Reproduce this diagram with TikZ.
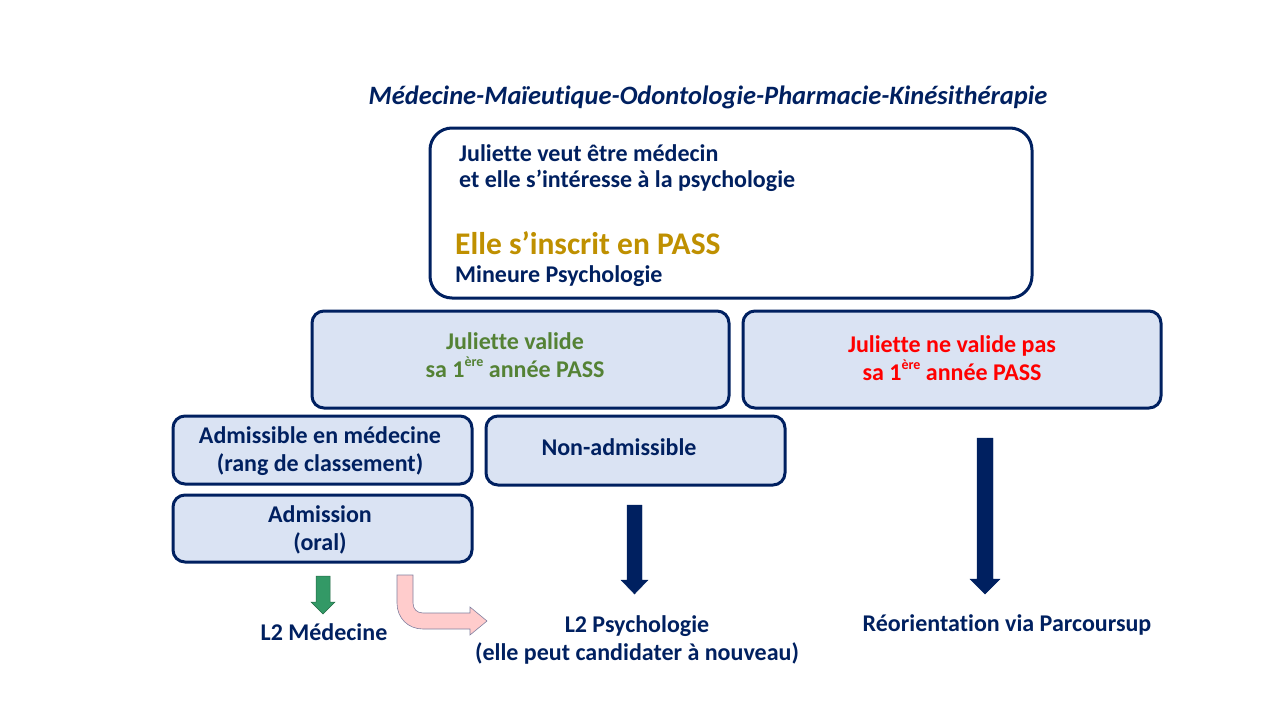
\documentclass[tikz,border=0pt]{standalone}
\usepackage{fontspec}
\setmainfont{Carlito}[Ligatures=NoCommon]
\definecolor{navy}{HTML}{002060}
\definecolor{boxfill}{HTML}{DAE3F3}
\definecolor{okgreen}{HTML}{548235}
\definecolor{gold}{HTML}{BF9000}
\definecolor{arrgreen}{HTML}{339966}
\definecolor{pinkfill}{HTML}{FFCCCC}
\definecolor{pinkline}{HTML}{8080A0}
\newcommand{\supx}[1]{\raisebox{0.45em}{\fontsize{14}{14}\selectfont #1}}
\tikzset{
  txt/.style={font=\bfseries\fontsize{24}{28.5}\selectfont, text=navy, align=center, inner sep=0pt},
  bigbox/.style={draw=navy, line width=3pt, rounded corners=22pt, fill=white},
  stagebox/.style={draw=navy, line width=3pt, rounded corners=12pt, fill=boxfill},
  navyarrow/.style={fill=navy, draw=navy, line width=0.4pt},
}
\begin{document}
\begin{tikzpicture}[x=1pt,y=-1pt]
\useasboundingbox (0,0) rectangle (1280,720);
% title
\node[txt, font=\bfseries\itshape\fontsize{26.5}{30}\selectfont] (title) at (708,97) {Médecine-Maïeutique-Odontologie-Pharmacie-Kinésithérapie};
% top box
\draw[bigbox] (430,128) rectangle (1032,298);
\node[txt, anchor=west] (t1) at (459,153) {Juliette veut être médecin};
\node[txt, anchor=west] (t2) at (459,181) {et elle s’intéresse à la psychologie};
\node[txt, anchor=west, text=gold, font=\bfseries\fontsize{31.5}{34}\selectfont] (t3) at (455,243) {Elle s’inscrit en PASS};
\node[txt, anchor=west] (t4) at (455,276) {Mineure Psychologie};
% second row
\draw[stagebox] (312,311) rectangle (729,408);
\node[txt, text=okgreen] (valide) at (515,355) {Juliette valide\\sa 1\supx{ère} année PASS};
\draw[stagebox] (743,311) rectangle (1161,408);
\node[txt, text=red] (nvalide) at (952,358) {Juliette ne valide pas\\sa 1\supx{ère} année PASS};
% third row
\draw[stagebox] (173,416) rectangle (472,484);
\node[txt] (adm) at (320,451) {Admissible en médecine\\(rang de classement)};
\draw[stagebox] (486,416) rectangle (785,485);
\node[txt] (nonadm) at (619,447) {Non-admissible};
\draw[stagebox] (173,495) rectangle (472,562);
\node[txt] (admission) at (320,530) {Admission\\(oral)};
% outcomes
\node[txt] (l2med) at (324,632) {L2 Médecine};
\node[txt] (l2psy) at (637,640) {L2 Psychologie\\(elle peut candidater à nouveau)};
\node[txt] (reo) at (1007,625) {Réorientation via Parcoursup};
% arrows
\draw[navyarrow] (627,505) -- (642,505) -- (642,580) -- (648,580) -- (634.5,594) -- (621,580) -- (627,580) -- cycle;
\draw[navyarrow] (977,438) -- (993,438) -- (993,579) -- (1000,579) -- (985,594) -- (970,579) -- (977,579) -- cycle;
\draw[fill=arrgreen, draw=arrgreen!70!black, line width=0.5pt] (316,576) -- (330,576) -- (330,602) -- (335,602) -- (323,614) -- (311,602) -- (316,602) -- cycle;
\draw[fill=pinkfill, draw=pinkline, line width=0.6pt] (397,575) -- (413,575) -- (413,603) .. controls (413,609) and (417,613) .. (423,613) -- (470,613) -- (470,607) -- (487,621) -- (470,635) -- (470,629) -- (423,629) .. controls (408,629) and (397,618) .. (397,603) -- cycle;
\end{tikzpicture}
\end{document}
